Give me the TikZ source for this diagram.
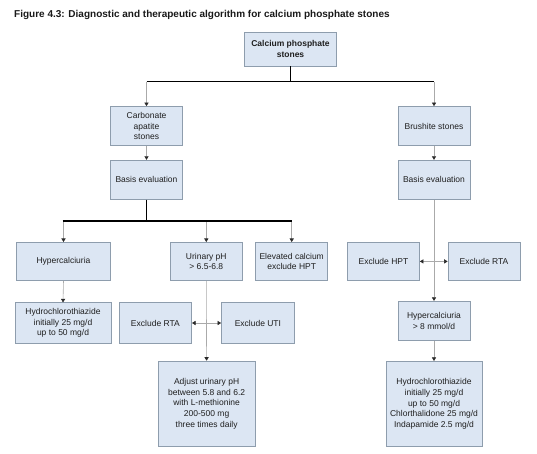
\documentclass[tikz,border=0pt]{standalone}
\usepackage{fontspec}
\setmainfont{Liberation Sans}
\usetikzlibrary{arrows.meta}
\definecolor{boxfill}{HTML}{DCE6F3}
\definecolor{boxline}{HTML}{8E9DAD}
\definecolor{conn}{HTML}{AAAAAA}
\definecolor{tipcol}{HTML}{2A2A2A}
\tikzset{
  flowbox/.style={draw=boxline, fill=boxfill, line width=0.7pt, align=center,
    inner sep=1pt, font=\fontsize{8.5}{10.6}\selectfont, text=black!88},
  arr/.style={draw=conn, line width=0.6pt, -{Triangle[width=4.2pt,length=3.6pt,color=tipcol]}},
  darr/.style={draw=conn, line width=0.6pt, {Triangle[width=4.2pt,length=3.6pt,color=tipcol]}-{Triangle[width=4.2pt,length=3.6pt,color=tipcol]}},
  trunk/.style={draw=black, line width=1pt},
  thicktrunk/.style={draw=black, line width=2pt},
}
\begin{document}
\begin{tikzpicture}[x=1pt,y=-1pt]
\useasboundingbox (0,0) rectangle (537,453);
\node[anchor=base west, inner sep=0pt, font=\bfseries\fontsize{10}{12}\selectfont, text=black!90] (title) at (14,17)
  {Figure 4.3: Diagnostic and therapeutic algorithm for calcium phosphate stones};

\node[flowbox, minimum width=92pt, minimum height=34pt, font=\bfseries\fontsize{8.5}{10.6}\selectfont] (top) at (290.5,49) {Calcium phosphate\\stones};
\node[flowbox, minimum width=72pt, minimum height=39pt] (carb) at (146.5,126) {Carbonate\\apatite\\stones};
\node[flowbox, minimum width=72pt, minimum height=39pt] (brush) at (434,126) {Brushite stones};
\node[flowbox, minimum width=72pt, minimum height=39pt] (basisL) at (146.5,179.7) {Basis evaluation};
\node[flowbox, minimum width=72pt, minimum height=39pt] (basisR) at (434,179.7) {Basis evaluation};

\node[flowbox, minimum width=94pt, minimum height=38pt] (hyperL) at (63.5,261.4) {Hypercalciuria};
\node[flowbox, minimum width=72pt, minimum height=38pt] (urin) at (206.3,261.4) {Urinary pH\\> 6.5-6.8};
\node[flowbox, minimum width=72pt, minimum height=38pt] (elev) at (291.7,261.4) {Elevated calcium\\exclude HPT};
\node[flowbox, minimum width=72pt, minimum height=38pt] (exHPT) at (383.5,261.4) {Exclude HPT};
\node[flowbox, minimum width=72pt, minimum height=38pt] (exRTAr) at (484,261.4) {Exclude RTA};

\node[flowbox, minimum width=96pt, minimum height=40.5pt] (hctzL) at (63,323) {Hydrochlorothiazide\\initially 25 mg/d\\up to 50 mg/d};
\node[flowbox, minimum width=72.4pt, minimum height=40.5pt] (exRTAl) at (155.4,323) {Exclude RTA};
\node[flowbox, minimum width=72.8pt, minimum height=40.5pt] (exUTI) at (257.9,323) {Exclude UTI};
\node[flowbox, minimum width=72pt, minimum height=39.5pt] (hyperR) at (434,321) {Hypercalciuria\\> 8 mmol/d};

\node[flowbox, minimum width=97pt, minimum height=85pt] (adjust) at (206.6,403.6) {Adjust urinary pH\\between 5.8 and 6.2\\with L-methionine\\200-500 mg\\three times daily};
\node[flowbox, minimum width=96pt, minimum height=85pt] (hctzR) at (434,403.8) {Hydrochlorothiazide\\initially 25 mg/d\\up to 50 mg/d\\Chlorthalidone 25 mg/d\\Indapamide 2.5 mg/d};

% top level split
\coordinate (j0) at (290.5,81.7);
\coordinate (j0L) at (146.5,81.7);
\coordinate (j0R) at (434,81.7);
\draw[trunk] (top.south) -- (j0);
\draw[trunk] (j0L) -- (j0R);
\draw[arr] (j0L) -- (carb.north);
\draw[arr] (j0R) -- (brush.north);
\draw[arr] (carb.south) -- (basisL.north);
\draw[arr] (brush.south) -- (basisR.north);

% left evaluation split
\coordinate (j1) at (146.5,221);
\coordinate (j1a) at (63.5,221);
\coordinate (j1b) at (206.3,221);
\coordinate (j1c) at (291.7,221);
\draw[arr] (j1a) -- (hyperL.north);
\draw[arr] (j1b) -- (urin.north);
\draw[arr] (j1c) -- (elev.north);
\draw[trunk] (basisL.south) -- (j1);
\draw[thicktrunk] ([xshift=-1pt]j1a) -- ([xshift=0.5pt]j1c);

\draw[arr] (hyperL.south) -- (hctzL.north);
\draw[arr] (urin.south) -- (adjust.north);
\draw[darr] (exRTAl.east) -- (exUTI.west);

% right column
\draw[arr] (basisR.south) -- (hyperR.north);
\draw[darr] (exHPT.east) -- (exRTAr.west);
\draw[arr] (hyperR.south) -- (hctzR.north);
\end{tikzpicture}
\end{document}
